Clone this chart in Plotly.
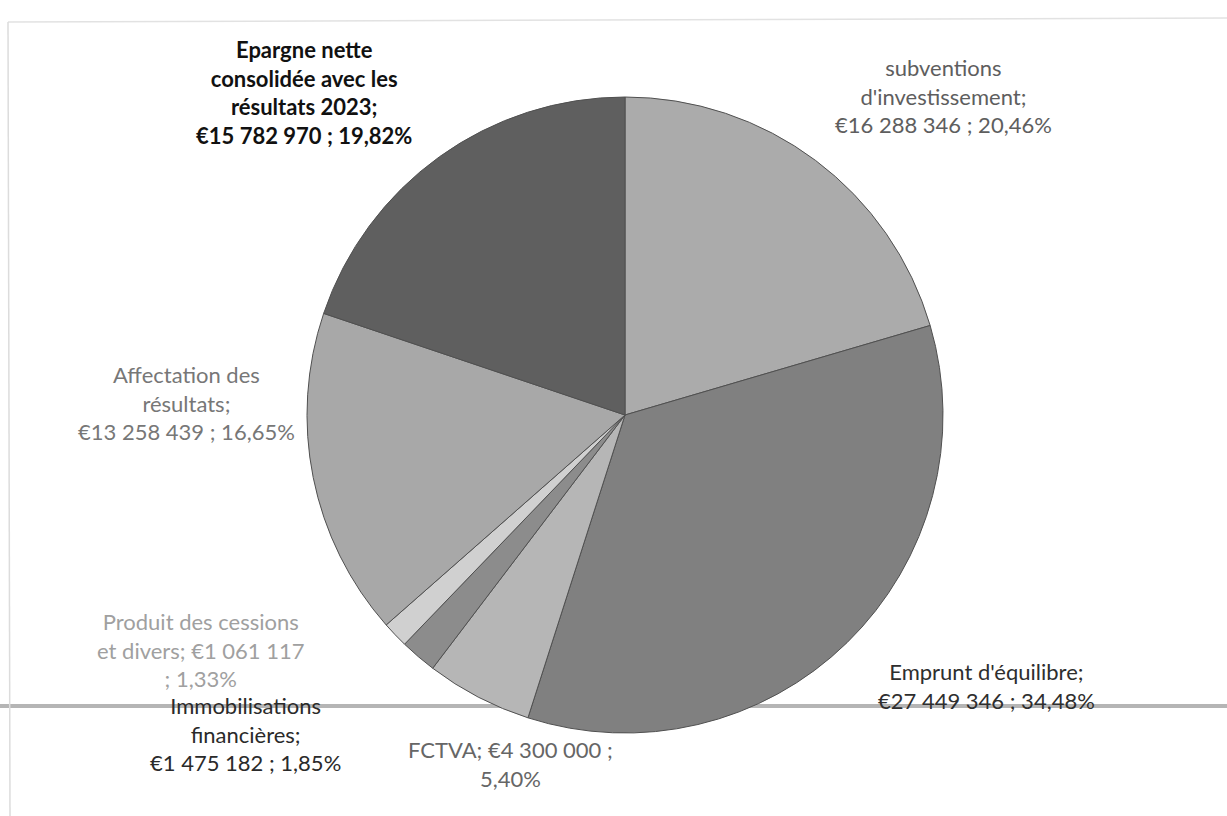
import plotly.graph_objects as go

# ---- data ----
categories = [
    "subventions d'investissement",
    "Emprunt d'équilibre",
    "FCTVA",
    "Immobilisations financières",
    "Produit des cessions et divers",
    "Affectation des résultats",
    "Epargne nette consolidée avec les résultats 2023",
]
values = [16288346, 27449346, 4300000, 1475182, 1061117, 13258439, 15782970]
slice_colors = ["#ababab", "#808080", "#b6b6b6", "#8c8c8c", "#d0d0d0", "#a8a8a8", "#5f5f5f"]

# label layout (line breaks as in the reference)
label_templates = [
    "subventions<br>d'investissement;<br>{v} ; {p}",
    "Emprunt d'équilibre;<br>{v} ; {p}",
    "FCTVA; {v} ;<br>{p}",
    "Immobilisations<br>financières;<br>{v} ; {p}",
    "Produit des cessions<br>et divers; {v}<br>; {p}",
    "Affectation des<br>résultats;<br>{v} ; {p}",
    "<b>Epargne nette<br>consolidée avec les<br>résultats 2023;<br>{v} ; {p}</b>",
]
label_colors = ["#5e5e5e", "#2e2e2e", "#666666", "#2a2a2a", "#a0a0a0", "#777777", "#111111"]
label_pos_px = [(943, 96), (986, 686), (511, 764), (245, 734), (201, 650), (186, 403), (304, 92)]

W, H = 1227, 816
total = sum(values)


def fmt_eur(v):
    return "€" + f"{v:,}".replace(",", " ")


def fmt_pct(v):
    return f"{100 * v / total:.2f}".replace(".", ",") + "%"


fig = go.Figure()
fig.add_trace(go.Pie(
    labels=categories,
    values=values,
    sort=False,
    direction="clockwise",
    rotation=0,
    textinfo="none",
    hoverinfo="label+value+percent",
    marker=dict(colors=slice_colors, line=dict(color="#505050", width=1)),
    showlegend=False,
    domain=dict(x=[(625 - 318) / W, (625 + 318) / W], y=[1 - 733 / H, 1 - 97 / H]),
))

for cat, v, tpl, col, (px, py) in zip(categories, values, label_templates, label_colors, label_pos_px):
    fig.add_annotation(
        x=px / W, y=1 - py / H, xref="paper", yref="paper",
        text=tpl.format(v=fmt_eur(v), p=fmt_pct(v)),
        showarrow=False, xanchor="center", yanchor="middle", align="center",
        font=dict(family="Lato, Carlito, sans-serif", size=22, color=col),
    )

# scan artefacts: page border lines
fig.add_shape(type="line", xref="paper", yref="paper", x0=0, x1=1, y0=1 - 706 / H, y1=1 - 706 / H,
              line=dict(color="#b5b5b5", width=4), layer="below")
fig.add_shape(type="line", xref="paper", yref="paper", x0=8 / W, x1=1, y0=1 - 22 / H, y1=1 - 18 / H,
              line=dict(color="#e2e2e2", width=1.5), layer="below")
fig.add_shape(type="line", xref="paper", yref="paper", x0=8 / W, x1=10 / W, y0=1 - 22 / H, y1=0,
              line=dict(color="#dcdcdc", width=1.5), layer="below")

fig.update_layout(
    width=W, height=H,
    margin=dict(l=0, r=0, t=0, b=0),
    paper_bgcolor="white", plot_bgcolor="white",
)

fig.write_html("out.html", config={"displayModeBar": False},
               post_script="document.body.style.margin='0';document.body.style.overflow='hidden';")
